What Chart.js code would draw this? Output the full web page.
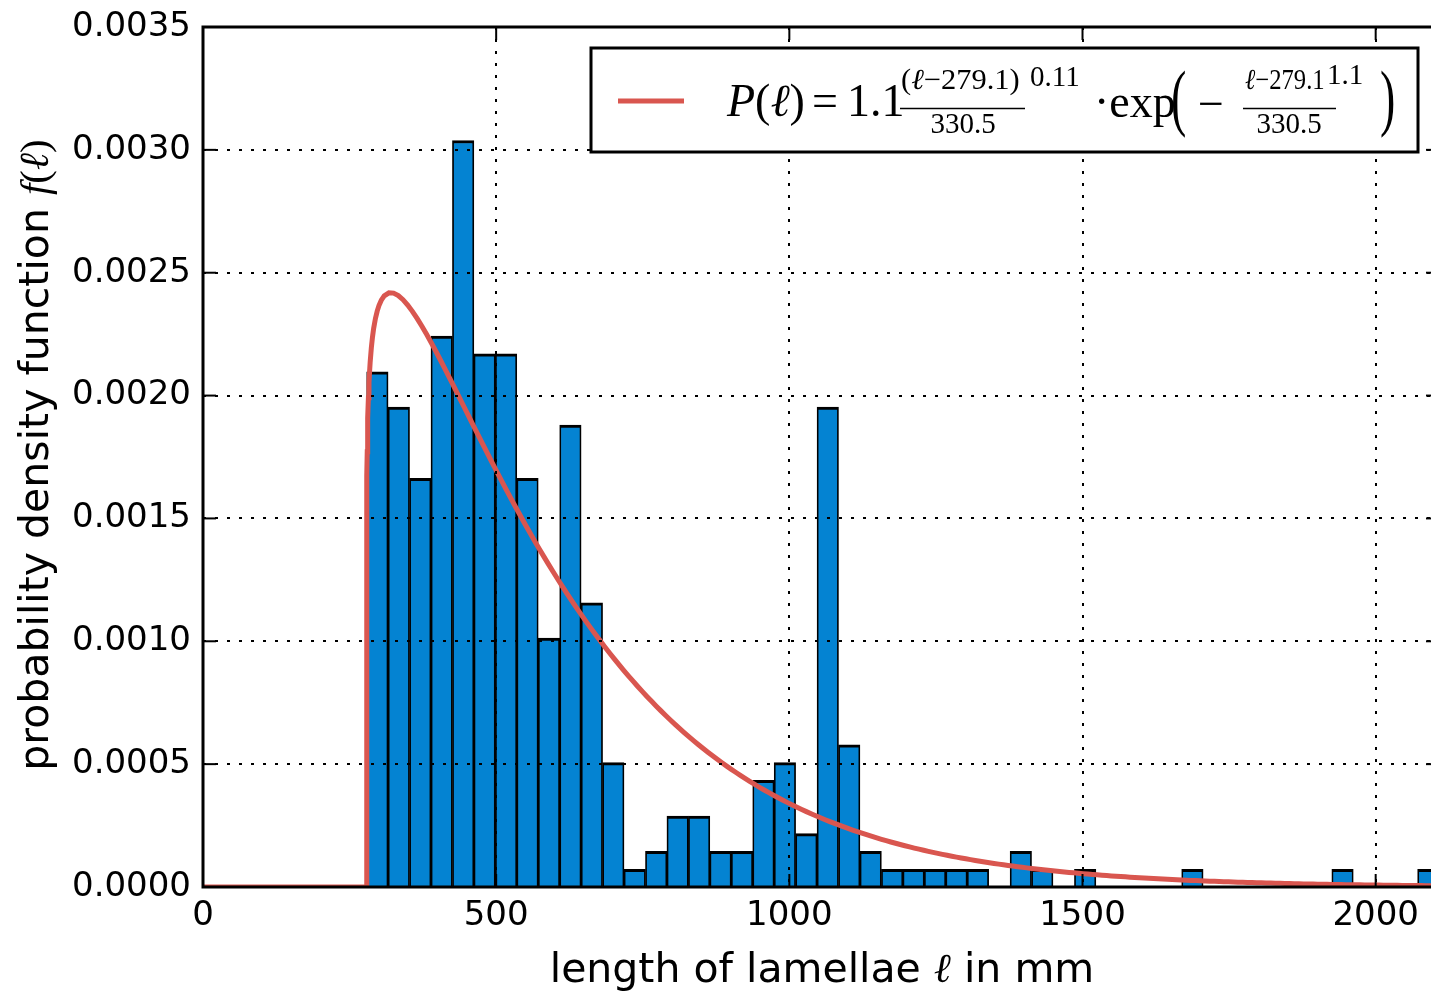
<!DOCTYPE html>
<html>
<head>
<meta charset="utf-8">
<script src="https://cdn.jsdelivr.net/npm/chart.js@4.4.1/dist/chart.umd.min.js"></script>
<style>
  html, body { margin: 0; padding: 0; background: #fff; overflow: hidden; }
  #wrap { position: absolute; left: 0; top: 0; width: 1445px; height: 991px; }
</style>
</head>
<body>
<div id="wrap"><canvas id="chart" width="1445" height="991"></canvas></div>
<script>
// --- DATA ---
const binStart = 279.1;      // left edge of first bin
const binWidth = 36.58;      // bin width in mm
const xMax = 2108;           // right end of the last bin
// probability density of each of the 50 bins
const densities = [
    0.002097, 0.001953, 0.001663, 0.002242, 0.003038, 0.002170, 0.002170, 0.001663, 0.001013, 0.001880,
    0.001157, 0.000506, 0.000072, 0.000145, 0.000289, 0.000289, 0.000145, 0.000145, 0.000434, 0.000506,
    0.000217, 0.001953, 0.000579, 0.000145, 0.000072, 0.000072, 0.000072, 0.000072, 0.000072, 0,
    0.000145, 0.000072, 0, 0.000072, 0, 0, 0, 0, 0.000072, 0,
    0, 0, 0, 0, 0, 0.000072, 0, 0, 0, 0.000072
];
const xTicks = [0, 500, 1000, 1500, 2000];
const yTicks = [0, 0.0005, 0.0010, 0.0015, 0.0020, 0.0025, 0.0030, 0.0035];

// fitted Weibull parameters shown in the legend
const fitLoc = 279.1;
const fitScale = 330.5;
const fitShape = 1.11;

const BLUE = '#0483d2';
const RED = '#d9564f';
const SANS = "'DejaVu Sans', sans-serif";
const SERIF = "'Liberation Serif', 'DejaVu Serif', serif";

const binCenters = densities.map((_, i) => binStart + (i + 0.5) * binWidth);

function weibull(l) {
    if (l <= fitLoc) return 0;
    const z = (l - fitLoc) / fitScale;
    return (fitShape / fitScale) * Math.pow(z, fitShape - 1) * Math.exp(-Math.pow(z, fitShape));
}

// sample the fitted curve, dense near the sharp rise
const curveX = [0, fitLoc];
[0.001, 0.01, 0.05, 0.1, 0.3, 0.6, 1, 1.5, 2, 3, 4, 5, 6, 8, 10, 12, 15, 18, 21, 25].forEach(d => curveX.push(fitLoc + d));
for (let l = fitLoc + 30; l < xMax; l += 8) curveX.push(l);
curveX.push(xMax);

// --- helpers for drawing mixed-font text ---
function drawRuns(ctx, runs, x, y, align, sx) {
    sx = sx || 1;
    const widths = runs.map(r => { ctx.font = r.font; return ctx.measureText(r.text).width; });
    const total = widths.reduce((s, w) => s + w, 0);
    ctx.save();
    ctx.translate(x, y);
    ctx.scale(sx, 1);
    let cx = align === 'center' ? -total / 2 : 0;
    ctx.textAlign = 'left';
    ctx.textBaseline = 'alphabetic';
    runs.forEach((r, i) => {
        ctx.font = r.font;
        ctx.fillText(r.text, cx, 0);
        cx += widths[i];
    });
    ctx.restore();
}
function txt(ctx, s, x, y, font, align, sx) {
    ctx.save();
    ctx.translate(x, y);
    ctx.scale(sx || 1, 1);
    ctx.font = font;
    ctx.textAlign = align || 'left';
    ctx.textBaseline = 'alphabetic';
    ctx.fillText(s, 0, 0);
    ctx.restore();
}
function seg(ctx, x1, y1, x2, y2) {
    ctx.beginPath(); ctx.moveTo(x1, y1); ctx.lineTo(x2, y2); ctx.stroke();
}
// tall thin parenthesis, made by stretching a normal glyph vertically
function tallParen(ctx, s, x, yTop, yBottom) {
    ctx.save();
    ctx.font = '46px ' + SERIF;
    ctx.textAlign = 'left';
    ctx.textBaseline = 'middle';
    const h = yBottom - yTop;
    ctx.translate(x, (yTop + yBottom) / 2);
    ctx.scale(1, h / 46);
    ctx.fillText(s, 0, 0);
    ctx.restore();
}

// --- spines, inward ticks, axis titles and legend ---
const decorations = {
    id: 'decorations',
    afterDraw(chart) {
        const ctx = chart.ctx;
        const a = chart.chartArea;
        const xs = chart.scales.x, ys = chart.scales.y;
        ctx.save();
        ctx.strokeStyle = '#000';
        ctx.fillStyle = '#000';

        // ticks pointing inward on all four sides
        ctx.lineWidth = 2;
        xTicks.forEach(v => {
            const p = xs.getPixelForValue(v);
            seg(ctx, p, a.bottom, p, a.bottom - 13);
            seg(ctx, p, a.top, p, a.top + 13);
        });
        yTicks.forEach(v => {
            const p = ys.getPixelForValue(v);
            seg(ctx, a.left, p, a.left + 13, p);
            seg(ctx, a.right, p, a.right - 13, p);
        });

        // spines
        ctx.lineWidth = 3;
        ctx.strokeRect(a.left, a.top, a.right - a.left, a.bottom - a.top);

        // x axis title
        drawRuns(ctx, [
            { text: 'length of lamellae ', font: '41px ' + SANS },
            { text: 'ℓ', font: 'italic 41px ' + SERIF },
            { text: ' in mm', font: '41px ' + SANS }
        ], 822, 982, 'center');

        // y axis title
        ctx.save();
        ctx.translate(48, 455);
        ctx.rotate(-Math.PI / 2);
        drawRuns(ctx, [
            { text: 'probability density function ', font: '41px ' + SANS },
            { text: 'f', font: 'italic 41px ' + SERIF },
            { text: '(', font: '41px ' + SERIF },
            { text: 'ℓ', font: 'italic 41px ' + SERIF },
            { text: ')', font: '41px ' + SERIF }
        ], 0, 0, 'center');
        ctx.restore();

        // legend box
        ctx.fillStyle = '#fff';
        ctx.fillRect(591, 48, 827, 104);
        ctx.lineWidth = 3;
        ctx.strokeRect(591, 48, 827, 104);
        ctx.strokeStyle = RED;
        ctx.lineWidth = 5;
        seg(ctx, 618, 101, 684, 101);

        ctx.fillStyle = '#000';
        ctx.strokeStyle = '#000';
        const big = '46px ' + SERIF, bigI = 'italic 46px ' + SERIF;
        const sm = '29px ' + SERIF, smI = 'italic 29px ' + SERIF;
        drawRuns(ctx, [
            { text: 'P', font: bigI },
            { text: '(', font: '46px ' + SERIF },
            { text: 'ℓ', font: bigI },
            { text: ')', font: '46px ' + SERIF }
        ], 727, 116);
        txt(ctx, '=', 812, 116, big);
        txt(ctx, '1.1', 847, 116, big);
        // first fraction
        drawRuns(ctx, [
            { text: '(', font: sm }, { text: 'ℓ', font: smI },
            { text: '−279.1)', font: sm }
        ], 901, 89, 'left', 1.05);
        ctx.lineWidth = 1.5;
        seg(ctx, 900, 108.5, 1025, 108.5);
        txt(ctx, '330.5', 963, 133, sm, 'center');
        txt(ctx, '0.11', 1030, 86, sm);
        txt(ctx, '·exp', 1094, 117, big);
        tallParen(ctx, '(', 1171, 66, 140);
        txt(ctx, '−', 1198, 119, big);
        drawRuns(ctx, [
            { text: 'ℓ', font: smI }, { text: '−279.1', font: sm }
        ], 1245, 89, 'left', 0.85);
        seg(ctx, 1243, 108.5, 1336, 108.5);
        txt(ctx, '330.5', 1289, 133, sm, 'center');
        txt(ctx, '1.1', 1327, 84, sm);
        tallParen(ctx, ')', 1380, 66, 140);

        ctx.restore();
    }
};

new Chart(document.getElementById('chart'), {
    type: 'bar',
    data: {
        datasets: [
            {
                type: 'line',
                data: curveX.map(l => ({ x: l, y: weibull(l) })),
                borderColor: RED,
                borderWidth: 5,
                pointRadius: 0,
                tension: 0,
                fill: false,
                order: 0
            },
            {
                type: 'bar',
                data: binCenters.map((c, i) => ({ x: c, y: densities[i] })),
                backgroundColor: BLUE,
                borderColor: '#000',
                borderWidth: { top: 3, left: 1.75, right: 1.75, bottom: 0 },
                borderSkipped: false,
                barPercentage: 1,
                categoryPercentage: 1,
                order: 1
            }
        ]
    },
    options: {
        responsive: false,
        animation: false,
        devicePixelRatio: 1,
        layout: { padding: { top: 27, right: 6, bottom: 0, left: 0 } },
        plugins: { legend: { display: false }, tooltip: { enabled: false } },
        scales: {
            x: {
                type: 'linear',
                min: 0,
                max: xMax,
                offset: false,
                afterBuildTicks: axis => { axis.ticks = xTicks.map(v => ({ value: v })); },
                afterFit: axis => { axis.height = 104; },
                ticks: {
                    color: '#000',
                    font: { family: SANS, size: 34 },
                    padding: 9,
                    maxRotation: 0,
                    callback: v => String(v)
                },
                grid: { z: 1, color: '#000', lineWidth: 2, drawTicks: false, offset: false },
                border: { display: false, dash: [3, 9] }
            },
            y: {
                min: 0,
                max: 0.0035,
                afterBuildTicks: axis => { axis.ticks = yTicks.map(v => ({ value: v })); },
                afterFit: axis => { axis.width = 203; axis.paddingTop = 0; axis.paddingBottom = 0; },
                ticks: {
                    color: '#000',
                    font: { family: SANS, size: 34 },
                    padding: 12,
                    callback: v => v.toFixed(4)
                },
                grid: { z: 1, color: '#000', lineWidth: 2, drawTicks: false },
                border: { display: false, dash: [3, 9] }
            }
        }
    },
    plugins: [decorations]
});
</script>
</body>
</html>
